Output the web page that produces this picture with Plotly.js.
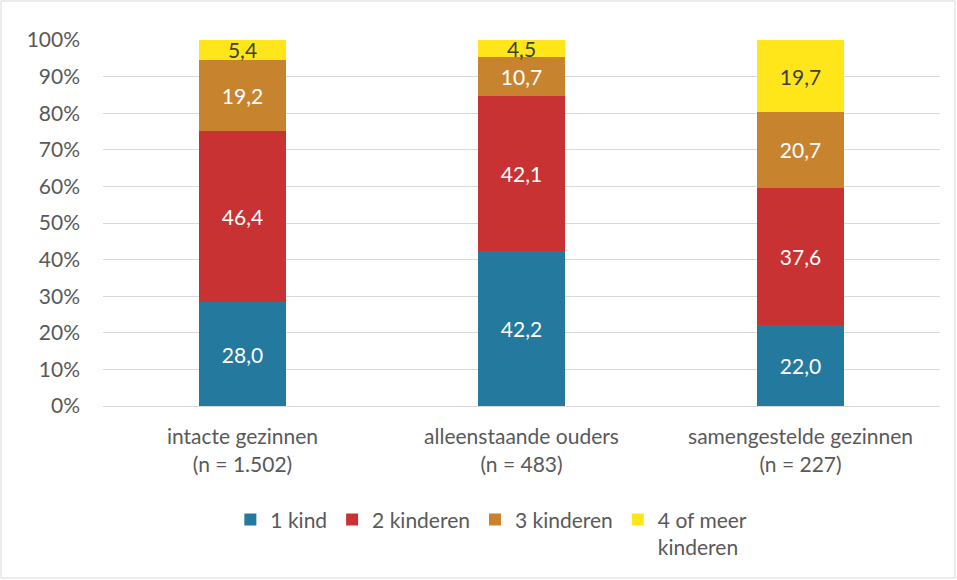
<!DOCTYPE html>
<html><head><meta charset="utf-8">
<script src="https://cdn.plot.ly/plotly-3.0.1.min.js"></script>
<style>body{margin:0;background:#fff}#c{width:957px;height:580px}</style>
</head><body><div id="c"></div>
<script>
const categories = ["intacte gezinnen<br>(n = 1.502)", "alleenstaande ouders<br>(n = 483)", "samengestelde gezinnen<br>(n = 227)"];
const seriesNames = ["1 kind", "2 kinderen", "3 kinderen", "4 of meer<br>kinderen"];
const kind1 = [28.0, 42.2, 22.0];
const kinderen2 = [46.4, 42.1, 37.6];
const kinderen3 = [19.2, 10.7, 20.7];
const kinderen4plus = [5.4, 4.5, 19.7];
const colors = ["#23799E", "#C83232", "#C8832F", "#FFE61A"];
const textColors = ["#ffffff", "#ffffff", "#ffffff", "#404040"];
const series = [kind1, kinderen2, kinderen3, kinderen4plus];

const FS = 21;
const fmt = v => v.toFixed(1).replace(".", ",");
const traces = series.map((vals, i) => ({
  type: "bar",
  name: seriesNames[i],
  x: categories,
  y: vals,
  text: vals.map(fmt),
  texttemplate: "%{text}",
  textposition: "inside",
  insidetextanchor: "middle",
  textangle: 0,
  constraintext: "none",
  insidetextfont: {color: textColors[i], size: FS, family: "Lato, sans-serif"},
  marker: {color: colors[i], line: {width: 0}},
  hoverinfo: "skip"
}));

const L = 103, R = 17, T = 40, B = 174;
const PW = 957 - L - R, PH = 580 - T - B;
const layout = {
  width: 957, height: 580,
  margin: {l: L, r: R, t: T, b: B},
  barmode: "stack",
  barnorm: "percent",
  bargap: 0.685,
  paper_bgcolor: "#fff", plot_bgcolor: "#fff",
  font: {family: "Lato, sans-serif", size: FS, color: "#595959"},
  showlegend: true,
  legend: {orientation: "h", x: 0.464, xanchor: "center", y: -0.255, yanchor: "top", valign: "top",
    font: {size: FS, color: "#595959"}, traceorder: "normal", itemwidth: 30},
  xaxis: {showline: true, linecolor: "#D9D9D9", linewidth: 1, ticks: "", tickfont: {size: FS, color: "#595959"},
    ticklabelstandoff: 12, fixedrange: true},
  yaxis: {range: [0, 100], dtick: 10, ticksuffix: "%", showgrid: true, gridcolor: "#D9D9D9", gridwidth: 1,
    zeroline: false, showline: false, ticks: "", tickfont: {size: FS, color: "#595959"}, ticklabelstandoff: 22, fixedrange: true},
  shapes: [{type: "rect", xref: "paper", yref: "paper",
    x0: (1 - L) / PW, x1: (955 - L) / PW, y0: (T + PH - 578) / PH, y1: (T + PH - 1) / PH,
    line: {color: "#D9D9D9", width: 1}, layer: "below"}]
};
Plotly.newPlot("c", traces, layout, {displayModeBar: false, staticPlot: true});
</script></body></html>
